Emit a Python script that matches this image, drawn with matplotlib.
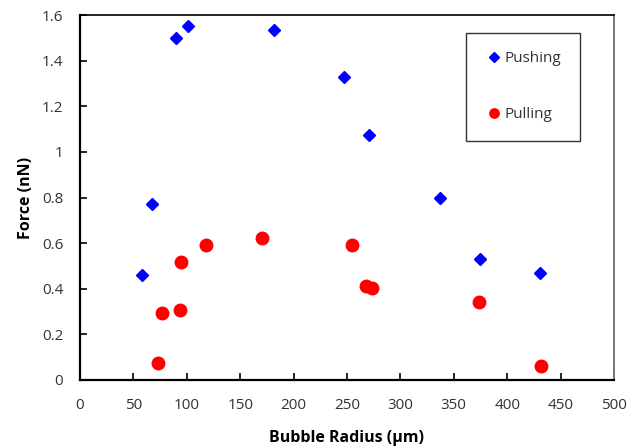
import matplotlib.pyplot as plt

plt.rcParams["font.family"] = ["Open Sans", "DejaVu Sans"]

# Data
push_radius = [58, 67, 90, 101, 182, 247, 271, 337, 375, 431]
push_force = [0.46, 0.77, 1.50, 1.55, 1.535, 1.33, 1.075, 0.80, 0.53, 0.47]
pull_radius = [73, 77, 94, 95, 118, 170, 255, 268, 273, 374, 432]
pull_force = [0.076, 0.292, 0.307, 0.516, 0.593, 0.621, 0.593, 0.412, 0.404, 0.342, 0.063]

x_ticks = list(range(0, 501, 50))
y_ticks = [0, 0.2, 0.4, 0.6, 0.8, 1.0, 1.2, 1.4, 1.6]
y_labels = ["0", "0.2", "0.4", "0.6", "0.8", "1", "1.2", "1.4", "1.6"]

fig = plt.figure(figsize=(6.31, 4.47), dpi=100)
ax = fig.add_axes([0.1268, 0.1499, 0.8462, 0.8165])

ax.plot(push_radius, push_force, linestyle="none", marker="D", markersize=6.5,
        color="#0000ff", label="Pushing")
ax.plot(pull_radius, pull_force, linestyle="none", marker="o", markersize=9,
        color="#ff0000", label="Pulling")

ax.set_xlim(0, 500)
ax.set_ylim(0, 1.6)
ax.set_xticks(x_ticks)
ax.set_yticks(y_ticks, labels=y_labels)
ax.tick_params(direction="in", length=5, width=1.2, labelsize=11,
               labelcolor="#333333")
ax.tick_params(axis="y", pad=12)
ax.tick_params(axis="x", pad=13)

ax.set_xlabel("Bubble Radius (µm)", fontsize=11.5, fontweight="bold", labelpad=12)
ax.set_ylabel("Force (nN)", fontsize=11.5, fontweight="bold", labelpad=6)

# Spines: strong left/bottom, thin top, gray right
ax.spines.left.set_linewidth(1.6)
ax.spines.bottom.set_linewidth(1.6)
ax.spines.top.set_linewidth(1.2)
ax.spines.right.set_linewidth(1.4)
ax.spines.right.set_color("#777777")

leg = ax.legend(loc="upper right", bbox_to_anchor=(0.95, 0.972), frameon=True,
                fancybox=False, edgecolor="black", fontsize=11,
                labelspacing=2.7, handletextpad=0.1, handlelength=1.2,
                borderpad=1.2, markerscale=0.75)
leg.get_frame().set_linewidth(1.0)
for t in leg.get_texts():
    t.set_color("#333333")

plt.savefig("out.png", dpi=100)
